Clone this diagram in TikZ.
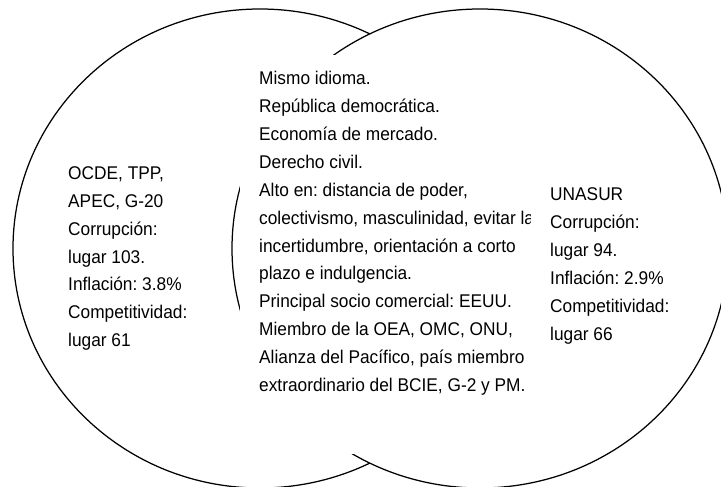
\documentclass[tikz,border=0pt]{standalone}
\usepackage{fontspec}
\setmainfont{Liberation Sans}[FakeStretch=0.94]
\frenchspacing
\begin{document}
\begin{tikzpicture}[x=1pt,y=-1pt,
  ring/.style={draw=black,line width=1.25pt},
  txt/.style={anchor=base west,inner sep=0pt,font=\fontsize{18.4}{27.95}\selectfont\frenchspacing}]
\useasboundingbox (0,0) rectangle (721,487);
% left circle
\draw[ring] (260,248.5) ellipse [x radius=247pt, y radius=239.5pt];
% right circle drawn on top with white fill
\draw[ring,fill=white] (480,248.5) ellipse [x radius=248pt, y radius=239.5pt];
% central white text box
\fill[white] (240,55) rectangle (530,454);
\begin{scope}
\clip (240,55) rectangle (530,454);
\foreach [count=\i] \t in {{Mismo idioma.},{República democrática.},{Economía de mercado.},{Derecho civil.},{Alto en: distancia de poder,},{colectivismo, masculinidad, evitar la},{incertidumbre, orientación a corto},{plazo e indulgencia.},{Principal socio comercial: EEUU.},{Miembro de la OEA, OMC, ONU,},{Alianza del Pacífico, país miembro},{extraordinario del BCIE, G-2 y PM.}}
  \node[txt] (c\i) at (259,{84.3+(\i-1)*27.95}) {\t};
\end{scope}
% left text
\foreach [count=\i] \t in {{OCDE, TPP,},{APEC, G-20},{Corrupción:},{lugar 103.},{Inflación: 3.8\%},{Competitividad:},{lugar 61}}
  \node[txt] (l\i) at (68,{179.5+(\i-1)*27.85}) {\t};
% right text
\foreach [count=\i] \t in {{UNASUR},{Corrupción:},{lugar 94.},{Inflación: 2.9\%},{Competitividad:},{lugar 66}}
  \node[txt] (r\i) at (550,{200.5+(\i-1)*27.9}) {\t};
\end{tikzpicture}
\end{document}
